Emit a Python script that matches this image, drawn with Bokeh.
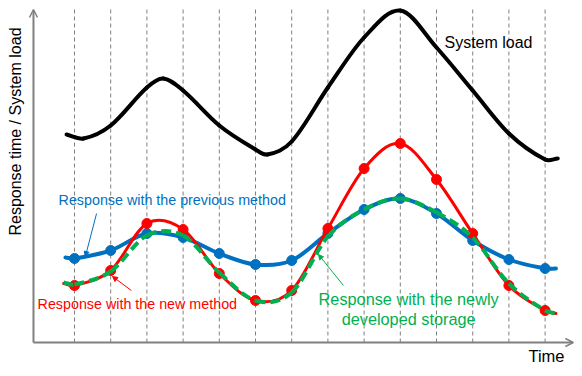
import math
from bokeh.plotting import figure
from bokeh.models import Arrow, OpenHead, NormalHead, Label, Range1d
from bokeh.embed import file_html
from bokeh.resources import INLINE

# ---- data (time index of each dashed line, heights above the time axis) ----
time_idx = list(range(14))
blue_prev = [84, 92, 109, 105, 89, 78, 82, 109, 133, 144, 129, 102, 83, 74]
red_new = [57, 72, 119, 113, 69, 42, 52, 114, 174, 199, 163, 109, 57, 32]
green_storage = [58, 71, 107, 107, 70, 42, 50, 106, 133, 144, 130, 105, 59, 32]

# curve lead-in / lead-out stubs (x, value)
blue_ends = [(-0.25, 85), (13.3, 74)]
red_ends = [(-0.3, 59), (13.3, 29)]
green_ends = [(-0.3, 60), (13.3, 29)]

load_x = [-0.22, 0.25, 1, 2, 2.45, 3, 4, 5, 5.33, 6, 7, 8, 9, 10, 11, 12, 13, 13.35]
load_y = [208, 204, 217, 255, 264, 252, 217, 193, 188, 201, 255, 305, 332, 295, 252, 209, 183, 184]

GRAY = "#808080"
BLUE = "#0070C0"
RED = "#FF0000"
GREEN = "#00B050"
FONT = "Liberation Sans"


def bezier_src(xs, ys):
    n = len(xs)
    m = []
    for i in range(n):
        if i == 0:
            m.append((ys[1] - ys[0]) / (xs[1] - xs[0]))
        elif i == n - 1:
            m.append((ys[-1] - ys[-2]) / (xs[-1] - xs[-2]))
        else:
            m.append((ys[i + 1] - ys[i - 1]) / (xs[i + 1] - xs[i - 1]))
    d = dict(x0=[], y0=[], x1=[], y1=[], cx0=[], cy0=[], cx1=[], cy1=[])
    for i in range(n - 1):
        dx = xs[i + 1] - xs[i]
        d["x0"].append(xs[i]); d["y0"].append(ys[i])
        d["x1"].append(xs[i + 1]); d["y1"].append(ys[i + 1])
        d["cx0"].append(xs[i] + dx / 3); d["cy0"].append(ys[i] + m[i] * dx / 3)
        d["cx1"].append(xs[i + 1] - dx / 3); d["cy1"].append(ys[i + 1] - m[i + 1] * dx / 3)
    return d


def with_ends(vals, ends):
    xs = [ends[0][0]] + time_idx + [ends[1][0]]
    ys = [ends[0][1]] + vals + [ends[1][1]]
    return xs, ys


p = figure(width=574, height=368, output_backend="svg", toolbar_location=None,
           x_range=Range1d(-2.044, 13.812), y_range=Range1d(-26, 342),
           min_border=0, min_border_left=0, min_border_right=0,
           min_border_top=0, min_border_bottom=0)
p.axis.visible = False
p.grid.visible = False
p.outline_line_color = None
p.background_fill_color = "white"
p.border_fill_color = "white"

# vertical dashed time lines
p.segment(x0=time_idx, y0=[0] * 14, x1=time_idx, y1=[335] * 14,
          line_color=GRAY, line_width=1, line_dash="4 3")

# axes as arrows
p.add_layout(Arrow(x_start=-1.133, y_start=0, x_end=-1.133, y_end=333,
                   line_color=GRAY, line_width=2,
                   end=OpenHead(size=8, line_color=GRAY, line_width=1.5)))
p.add_layout(Arrow(x_start=-1.133, y_start=0, x_end=13.78, y_end=0,
                   line_color=GRAY, line_width=2,
                   end=OpenHead(size=8, line_color=GRAY, line_width=1.5)))

# system load
p.bezier(source=bezier_src(load_x, load_y), x0="x0", y0="y0", x1="x1", y1="y1",
         cx0="cx0", cy0="cy0", cx1="cx1", cy1="cy1",
         line_color="black", line_width=4, line_cap="round")

# previous method (blue)
bx, by = with_ends(blue_prev, blue_ends)
p.bezier(source=bezier_src(bx, by), x0="x0", y0="y0", x1="x1", y1="y1",
         cx0="cx0", cy0="cy0", cx1="cx1", cy1="cy1",
         line_color=BLUE, line_width=4, line_cap="round")
p.scatter(time_idx, blue_prev, size=10, color=BLUE)

# new method (red)
rx, ry = with_ends(red_new, red_ends)
p.bezier(source=bezier_src(rx, ry), x0="x0", y0="y0", x1="x1", y1="y1",
         cx0="cx0", cy0="cy0", cx1="cx1", cy1="cy1",
         line_color=RED, line_width=3, line_cap="round")
p.scatter(time_idx, red_new, size=10, color=RED)

# newly developed storage (green dashed)
gx, gy = with_ends(green_storage, green_ends)
p.bezier(source=bezier_src(gx, gy), x0="x0", y0="y0", x1="x1", y1="y1",
         cx0="cx0", cy0="cy0", cx1="cx1", cy1="cy1",
         line_color=GREEN, line_width=4, line_dash="10 5")

# pointer arrows
p.add_layout(Arrow(x_start=0.61, y_start=129, x_end=0.30, y_end=86,
                   line_color=BLUE, line_width=1,
                   end=NormalHead(size=5, fill_color=BLUE, line_color=BLUE)))
p.add_layout(Arrow(x_start=1.57, y_start=52, x_end=1.05, y_end=66,
                   line_color=RED, line_width=1,
                   end=NormalHead(size=5, fill_color=RED, line_color=RED)))
p.add_layout(Arrow(x_start=7.43, y_start=57, x_end=6.74, y_end=88,
                   line_color=GREEN, line_width=1,
                   end=NormalHead(size=5, fill_color=GREEN, line_color=GREEN)))

# texts
def lab(x, y, text, color, size, align="left", angle=0):
    p.add_layout(Label(x=x, y=y, text=text, text_color=color, text_font=FONT,
                       text_font_size=size, text_align=align,
                       text_baseline="middle", angle=angle))

lab(-1.63, 211, "Response time / System load", "black", "16px", "center", math.pi / 2)
lab(10.22, 300, "System load", "black", "16px")
lab(12.54, -13, "Time", "black", "16.5px")
lab(-0.44, 143, "Response with the previous method", BLUE, "14.3px")
lab(-1.02, 39, "Response with the new method", RED, "14.3px")
lab(9.23, 44, "Response with the newly", GREEN, "16.3px", "center")
lab(9.23, 24, "developed storage", GREEN, "16.3px", "center")

open("out.html", "w").write(file_html(p, INLINE))
